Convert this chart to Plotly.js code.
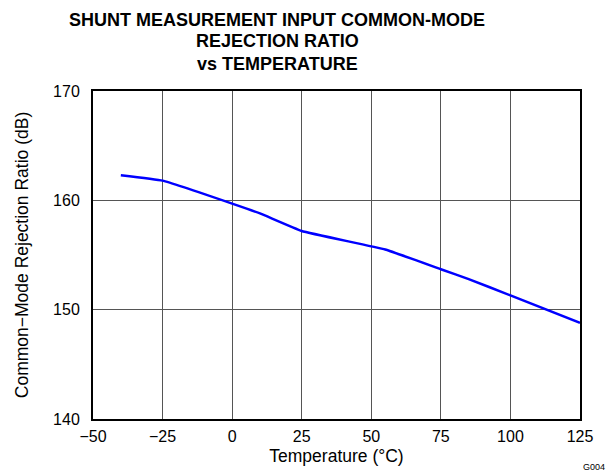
<!DOCTYPE html>
<html>
<head>
<meta charset="utf-8">
<script src="https://cdn.plot.ly/plotly-3.0.1.min.js"></script>
<style>html,body{margin:0;padding:0;background:#fff;}#chart{width:608px;height:472px;}</style>
</head>
<body>
<div id="chart"></div>
<script>
const temperature = [-40, -25, 0, 10, 25, 55, 75, 85, 100, 125];
const cmrr = [162.3, 161.8, 159.7, 158.8, 157.2, 155.5, 153.7, 152.8, 151.3, 148.8];
const xTicks = [-50, -25, 0, 25, 50, 75, 100, 125];
const yTicks = [140, 150, 160, 170];
const titleLines = ['SHUNT MEASUREMENT INPUT COMMON-MODE', 'REJECTION RATIO', 'vs TEMPERATURE'];

const font = 'Liberation Sans, Arial, sans-serif';
const titleY = [1.2165, 1.151, 1.0838];
const annotations = titleLines.map((t, i) => ({
  text: '<b>' + t + '</b>', xref: 'paper', yref: 'paper', x: 0.378, y: titleY[i],
  xanchor: 'center', yanchor: 'middle', showarrow: false,
  font: {family: font, size: 18, color: '#000'}
}));
annotations.push({
  text: 'G004', xref: 'paper', yref: 'paper', x: 1.055, y: -0.146,
  xanchor: 'right', yanchor: 'middle', showarrow: false,
  font: {family: font, size: 9, color: '#000'}
});

Plotly.newPlot('chart', [{
  x: temperature, y: cmrr, type: 'scatter', mode: 'lines',
  line: {color: '#0000ff', width: 2.5, shape: 'spline', smoothing: 0.3},
  hoverinfo: 'skip'
}], {
  width: 608, height: 472,
  margin: {l: 93, r: 28, t: 91, b: 53},
  paper_bgcolor: '#fff', plot_bgcolor: '#fff',
  showlegend: false,
  font: {family: font, color: '#000', size: 16},
  xaxis: {
    range: [-50, 125], tickvals: xTicks, ticktext: xTicks.map(v => v < 0 ? '\u2212' + Math.abs(v) : String(v)),
    showgrid: true, gridcolor: '#555', gridwidth: 1,
    showline: true, linecolor: '#000', linewidth: 2, mirror: true,
    ticks: '', zeroline: false, ticklabelstandoff: 2,
    tickfont: {family: font, size: 16, color: '#000'},
    title: {text: 'Temperature (°C)', font: {family: font, size: 17.5, color: '#000'}, standoff: 6}
  },
  yaxis: {
    range: [140, 170], tickvals: yTicks,
    showgrid: true, gridcolor: '#555', gridwidth: 1,
    showline: true, linecolor: '#000', linewidth: 2, mirror: true,
    ticks: '', zeroline: false, ticklabelstandoff: 8,
    tickfont: {family: font, size: 16, color: '#000'},
    title: {text: 'Common\u2212Mode Rejection Ratio (dB)', font: {family: font, size: 17.5, color: '#000'}, standoff: 20}
  },
  annotations: annotations
}, {displayModeBar: false, staticPlot: true});
</script>
</body>
</html>
